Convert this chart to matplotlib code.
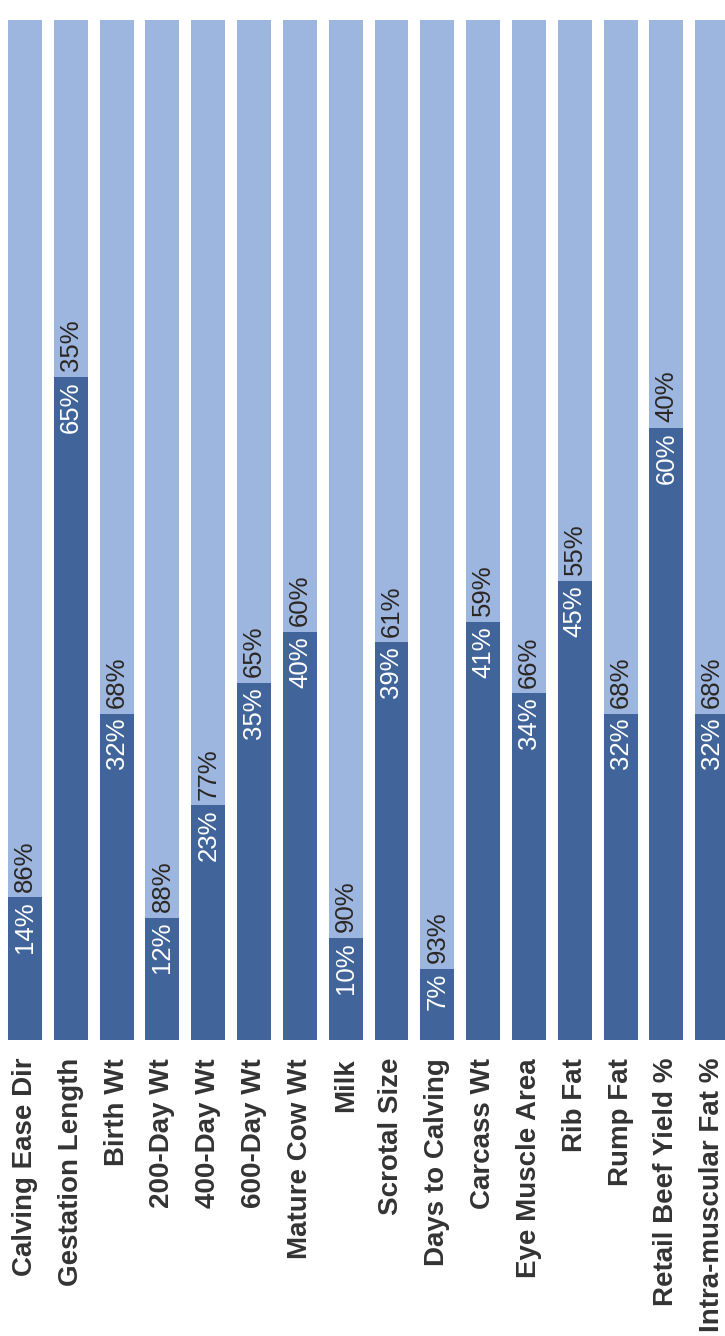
import matplotlib
matplotlib.use('Agg')
import matplotlib.pyplot as plt

traits = ['Calving Ease Dir', 'Gestation Length', 'Birth Wt', '200-Day Wt',
          '400-Day Wt', '600-Day Wt', 'Mature Cow Wt', 'Milk', 'Scrotal Size',
          'Days to Calving', 'Carcass Wt', 'Eye Muscle Area', 'Rib Fat',
          'Rump Fat', 'Retail Beef Yield %', 'Intra-muscular Fat %']
dark_pct = [14, 65, 32, 12, 23, 35, 40, 10, 39, 7, 41, 34, 45, 32, 60, 32]
light_pct = [86, 35, 68, 88, 77, 65, 60, 90, 61, 93, 59, 66, 55, 68, 40, 68]

dark_col = '#41659a'
light_col = '#9db6e0'

plt.rcParams['font.family'] = ['Liberation Sans', 'DejaVu Sans']

fig = plt.figure(figsize=(7.25, 13.36), dpi=100)
ax = fig.add_axes([0, 0.2216, 1, 0.7635])

x = list(range(len(traits)))
ax.bar(x, dark_pct, width=0.74, color=dark_col)
ax.bar(x, light_pct, width=0.74, bottom=dark_pct, color=light_col)

for i in x:
  ax.annotate('%d%%' % dark_pct[i], (i, dark_pct[i]), xytext=(0, -3),
              textcoords='offset points', rotation=90, ha='center', va='top',
              color='white', fontsize=18.5)
  ax.annotate('%d%%' % light_pct[i], (i, dark_pct[i]), xytext=(0, 4),
              textcoords='offset points', rotation=90, ha='center', va='bottom',
              color='#2b2622', fontsize=18.5)
  ax.annotate(traits[i], (i, 0), xytext=(0, -13), textcoords='offset points',
              rotation=90, ha='center', va='top', color='#333333',
              fontsize=20, fontweight='bold', annotation_clip=False)

ax.set_xlim(-0.546, 15.28)
ax.set_ylim(0, 100)
ax.axis('off')

fig.savefig('out.png', dpi=100)
